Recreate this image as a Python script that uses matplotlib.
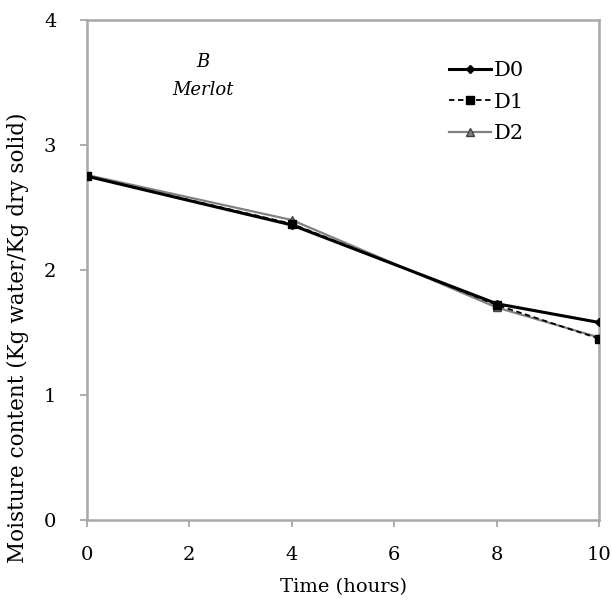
import matplotlib
matplotlib.use("Agg")
import matplotlib.pyplot as plt

time_h = [0, 4, 8, 10]
d0 = [2.75, 2.36, 1.73, 1.58]
d1 = [2.75, 2.37, 1.72, 1.45]
d2 = [2.76, 2.40, 1.70, 1.46]
series_labels = ["D0", "D1", "D2"]
x_ticks = [0, 2, 4, 6, 8, 10]
y_ticks = [0, 1, 2, 3, 4]

plt.rcParams['font.family'] = ['DejaVu Serif']

fig = plt.figure(figsize=(6.12, 6.06), dpi=100)
ax = fig.add_axes([0.142, 0.142, 0.837, 0.825])

ax.plot(time_h, d0, color='black', lw=2.2, marker='D', ms=4.5, label=series_labels[0], zorder=3)
ax.plot(time_h, d1, color='black', lw=1.3, ls=(0, (3, 2)), marker='s', ms=6, label=series_labels[1], zorder=4)
ax.plot(time_h, d2, color='#808080', lw=1.6, marker='^', ms=5.5, mfc='#808080', mec='#404040', label=series_labels[2], zorder=2)

ax.set_xlim(0, 10)
ax.set_ylim(0, 4)
ax.set_xticks(x_ticks)
ax.set_yticks(y_ticks)
ax.tick_params(axis='both', direction='out', length=5, width=1.2, color='#a0a0a0', labelsize=14)
ax.tick_params(axis='x', pad=14)
ax.tick_params(axis='y', pad=17)
for s in ax.spines.values():
    s.set_color('#a8a8a8')
    s.set_linewidth(1.8)

ax.set_xlabel('Time (hours)', fontsize=14, labelpad=10)
ax.set_ylabel('Moisture content (Kg water/Kg dry solid)', fontsize=15.5)
ax.yaxis.set_label_coords(-0.113, 0.364)

ax.text(2.27, 3.66, 'B', fontsize=13, style='italic', ha='center', va='center')
ax.text(2.27, 3.44, 'Merlot', fontsize=13, style='italic', ha='center', va='center')

leg = ax.legend(loc='upper right', bbox_to_anchor=(0.89, 0.955), frameon=False, fontsize=15,
                handlelength=2.0, labelspacing=0.6, handletextpad=0.15)

fig.savefig('out.png', dpi=100)
